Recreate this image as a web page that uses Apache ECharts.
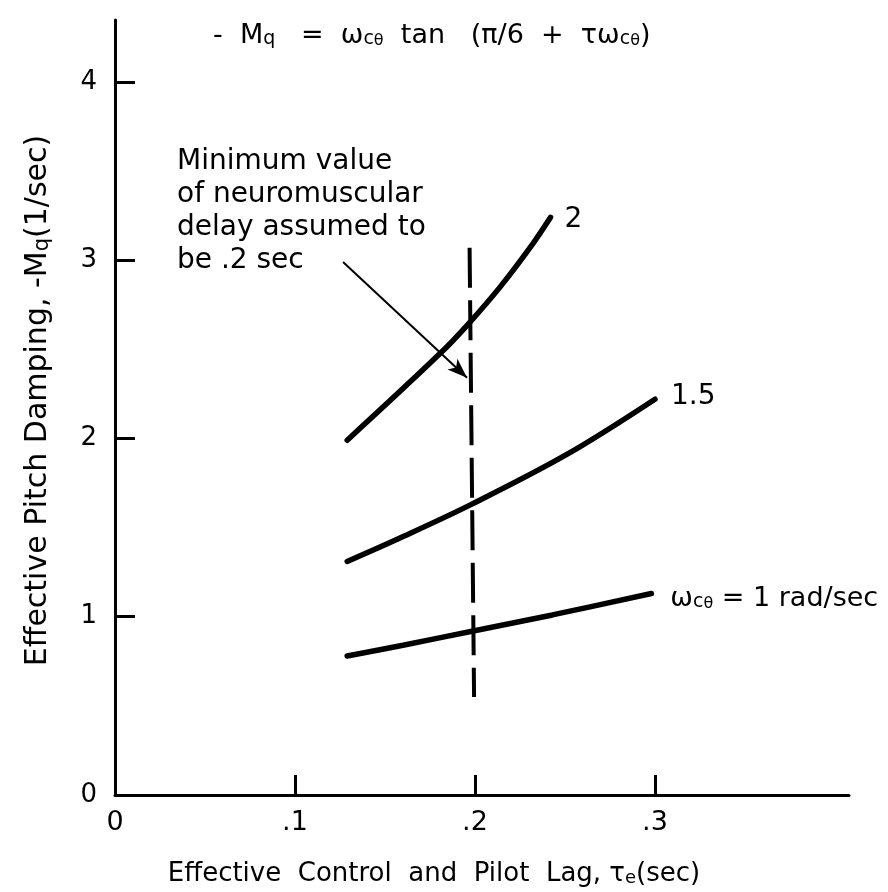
<!DOCTYPE html>
<html><head><meta charset="utf-8">
<script src="https://cdn.jsdelivr.net/npm/echarts@6/dist/echarts.min.js"></script>
<style>html,body{margin:0;padding:0;background:#fff}#c{width:888px;height:892px}</style>
</head><body><div id="c"></div>
<script>
// ---- data ----
const xTicks = [0, 0.1, 0.2, 0.3];
const xTickLabels = ['0', '.1', '.2', '.3'];
const yTicks = [0, 1, 2, 3, 4];
const yTickLabels = ['0', '1', '2', '3', '4'];
const curveOmega1 = [[0.129, 0.78], [0.160, 0.84], [0.199, 0.92], [0.243, 1.01], [0.298, 1.13]];
const curveOmega15 = [[0.129, 1.31], [0.158, 1.44], [0.198, 1.63], [0.251, 1.91], [0.300, 2.22]];
const curveOmega2 = [[0.129, 1.99], [0.181, 2.48], [0.197, 2.65], [0.214, 2.85], [0.232, 3.09], [0.242, 3.24]];
const delayLine = [[0.197, 3.07], [0.1995, 0.55]];
const arrowLine = [[0.1267, 2.99], [0.1956, 2.34]];
const annotationLines = ['Minimum value', 'of neuromuscular', 'delay assumed to', 'be .2 sec'];
const seriesLabels = ['{m|ω}{s|c}{t|θ}{m| = 1 rad/sec}', '{m|1.5}', '{m|2}'];
const titleText = '{m|-  M}{s|q}{m|   =  ω}{s|c}{t|θ}{m|  tan   (π/6  +  τω}{s|c}{t|θ}{m|)}';
const xName = '{m|Effective  Control  and  Pilot  Lag, τ}{s|e}{m|(sec)}';
const yName = '{m|Effective Pitch Damping, -M}{s|q}{m|(1/sec)}';

const F = 'DejaVu Sans';
function rich(size) {
  return {
    m: {fontFamily: F, fontWeight: 'normal', fontSize: size, lineHeight: Math.round(size * 1.36), verticalAlign: 'bottom', color: '#000'},
    s: {fontFamily: F, fontWeight: 'normal', fontSize: Math.round(size * 0.7), lineHeight: Math.round(size * 0.56), verticalAlign: 'bottom', color: '#000'},
    t: {fontFamily: F, fontWeight: 'normal', fontSize: Math.round(size * 0.58), lineHeight: Math.round(size * 0.28), verticalAlign: 'bottom', color: '#000'}
  };
}

function lookup(vals, labels, v) {
  for (let i = 0; i < vals.length; i++) if (Math.abs(vals[i] - v) < 1e-6) return labels[i];
  return '';
}

const chart = echarts.init(document.getElementById('c'), null, {renderer: 'canvas'});

function curveSeries(data, label, size, dist, offY) {
  return {
    type: 'line', data: data, smooth: 0.35, symbol: 'none', silent: true,
    lineStyle: {color: '#000', width: 5.5, cap: 'round'},
    endLabel: {show: true, formatter: () => label, distance: dist, offset: [0, offY], rich: rich(size)}
  };
}

chart.setOption({
  animation: false,
  backgroundColor: '#fff',
  title: {
    text: titleText,
    left: 213, top: 12, padding: 0,
    textStyle: {fontWeight: 'normal', rich: rich(27)}
  },
  grid: {left: 115, top: 20, width: 734, height: 776, containLabel: false},
  xAxis: {
    type: 'value', min: 0, max: 0.4078,
    axisLine: {show: true, onZero: false, lineStyle: {color: '#000', width: 3}},
    axisTick: {show: true, inside: true, length: 20, lineStyle: {color: '#000', width: 3}, customValues: [0.1, 0.2, 0.3]},
    axisLabel: {customValues: xTicks, formatter: v => lookup(xTicks, xTickLabels, v), margin: 14,
      fontFamily: F, fontSize: 27, color: '#000', showMinLabel: true},
    splitLine: {show: false},
    name: xName,
    nameLocation: 'middle', nameGap: 57,
    nameTextStyle: {rich: rich(26), padding: [0, 96, 0, 0]}
  },
  yAxis: {
    type: 'value', min: 0, max: 4.347,
    axisLine: {show: true, onZero: false, lineStyle: {color: '#000', width: 3}},
    axisTick: {show: true, inside: true, length: 20, lineStyle: {color: '#000', width: 3}, customValues: [1, 2, 3, 4]},
    axisLabel: {customValues: yTicks, formatter: v => lookup(yTicks, yTickLabels, v), margin: 18,
      fontFamily: F, fontSize: 26, color: '#000', showMinLabel: true},
    splitLine: {show: false},
    name: yName,
    nameLocation: 'middle', nameGap: 62,
    nameTextStyle: {rich: rich(30), padding: [0, 0, 0, 14]}
  },
  series: [
    curveSeries(curveOmega1, seriesLabels[0], 27, 19, 0),
    curveSeries(curveOmega15, seriesLabels[1], 28, 16, -7),
    curveSeries(curveOmega2, seriesLabels[2], 28, 14, -3),
    {
      type: 'line', data: delayLine, symbol: 'none', silent: true,
      lineStyle: {color: '#000', width: 4, type: [40, 12.5]},
      markLine: {
        silent: true, animation: false, symbol: ['none', 'arrow'], symbolSize: [11, 20],
        label: {show: false},
        lineStyle: {color: '#000', width: 2, type: 'solid'},
        data: [[{coord: arrowLine[0]}, {coord: arrowLine[1]}]]
      }
    }
  ],
  graphic: [{
    type: 'text', left: 177, top: 145,
    style: {text: annotationLines.join('\n'), fontFamily: F, fontSize: 28, lineHeight: 33, fill: '#000'}
  }]
});
</script></body></html>
